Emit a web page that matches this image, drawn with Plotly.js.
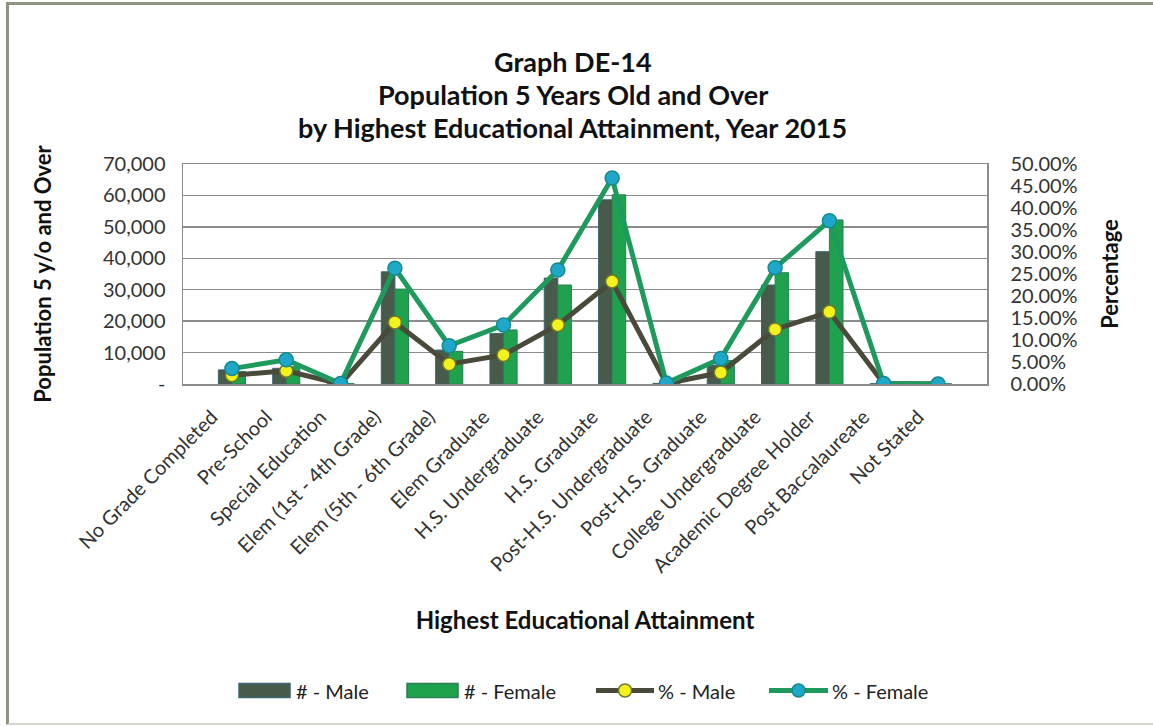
<!DOCTYPE html>
<html>
<head>
<meta charset="utf-8">
<script src="https://cdn.plot.ly/plotly-3.0.1.min.js"></script>
<style>
  html, body { margin: 0; padding: 0; background: #ffffff; }
  #wrap { position: relative; width: 1153px; height: 727px; }
  #chart { width: 1153px; height: 727px; }
  #frame {
    position: absolute; left: 6px; top: 2px; width: 1147px; height: 723px;
    border-left: 3px solid #8e9482; border-top: 3px solid #8e9482;
    border-bottom: 2px solid #d4d6cf;
    pointer-events: none; box-sizing: border-box;
  }
</style>
</head>
<body>
<div id="wrap">
  <div id="chart"></div>
  <div id="frame"></div>
</div>
<script>
// Education levels on the x axis
const categories = [
  "No Grade Completed", "Pre-School", "Special Education",
  "Elem (1st - 4th Grade)", "Elem (5th - 6th Grade)", "Elem Graduate",
  "H.S. Undergraduate", "H.S. Graduate", "Post-H.S. Undergraduate",
  "Post-H.S. Graduate", "College Undergraduate", "Academic Degree Holder",
  "Post Baccalaureate", "Not Stated"
];

// Population counts (left axis)
const maleCount   = [4500, 5000, 100, 35700, 10800, 16100, 33700, 58600, 200, 6000, 31500, 42100, 100, 50];
const femaleCount = [4000, 5500, 100, 30200, 10400, 17200, 31500, 60200, 200, 7500, 35400, 52200, 150, 50];

// Shares in percent (right axis)
const malePct   = [2.0, 3.0, 0.0, 14.0, 4.5, 6.6, 13.4, 23.3, 0.1, 2.6, 12.4, 16.4, 0.1, 0.0];
const femalePct = [3.5, 5.5, 0.1, 26.3, 8.7, 13.4, 25.9, 46.8, 0.2, 5.8, 26.4, 37.1, 0.1, 0.0];

// Axis tick labels
const countTicks = [0, 10000, 20000, 30000, 40000, 50000, 60000, 70000];
const countTickText = ["-", "10,000", "20,000", "30,000", "40,000", "50,000", "60,000", "70,000"];
const pctTicks = [0, 5, 10, 15, 20, 25, 30, 35, 40, 45, 50];
const pctTickText = pctTicks.map(v => v.toFixed(2) + "%");

const titleLines = [
  "Graph DE-14",
  "Population 5 Years Old and Over",
  "by Highest Educational Attainment, Year 2015"
];

const seriesNames = ["# - Male", "# - Female", "% - Male", "% - Female"];

const FONT = "Lato, 'Open Sans', sans-serif";

// Series styling
const STYLE = {
  maleBar:   { fill: "#485a4a", edge: "#3c6472" },
  femaleBar: { fill: "#1ea24e", edge: "#2b7e52" },
  maleLine:  { line: "#4a4a3a", dot: "#f3f21c", dotEdge: "#6f7a2a" },
  femaleLine:{ line: "#1e9b5c", dot: "#1ea7c9", dotEdge: "#168a8c" }
};

const traces = [
  {
    type: "bar", name: seriesNames[0], x: categories, y: maleCount,
    marker: { color: STYLE.maleBar.fill, line: { color: STYLE.maleBar.edge, width: 1 } },
    yaxis: "y"
  },
  {
    type: "bar", name: seriesNames[1], x: categories, y: femaleCount,
    marker: { color: STYLE.femaleBar.fill, line: { color: STYLE.femaleBar.edge, width: 1 } },
    yaxis: "y"
  },
  {
    type: "scatter", mode: "lines+markers", name: seriesNames[2],
    x: categories, y: malePct, yaxis: "y2",
    line: { color: STYLE.maleLine.line, width: 5 },
    marker: { color: STYLE.maleLine.dot, size: 13, line: { color: STYLE.maleLine.dotEdge, width: 1.5 } }
  },
  {
    type: "scatter", mode: "lines+markers", name: seriesNames[3],
    x: categories, y: femalePct, yaxis: "y2",
    line: { color: STYLE.femaleLine.line, width: 5 },
    marker: { color: STYLE.femaleLine.dot, size: 14, line: { color: STYLE.femaleLine.dotEdge, width: 1.5 } }
  }
];

// Plot-area geometry, used to place the legend row in paper units
const PLOT = { left: 183, width: 804, bottom: 384, height: 220 };
const px = v => (v - PLOT.left) / PLOT.width;
const py = v => (PLOT.bottom - v) / PLOT.height;

const annotations = titleLines.map((t, i) => ({
  text: "<b>" + t + "</b>",
  xref: "paper", yref: "paper",
  x: 0.485, y: 1.465 - i * 0.15,
  xanchor: "center", yanchor: "middle",
  showarrow: false,
  font: { family: FONT, size: 27, color: "#111111" }
}));

// Legend row: wide swatches for the bars, line + dot for the percentages
const legendY = 690.5;
const legendItems = [
  { kind: "bar",  x0: 239, x1: 290, textX: 294, style: STYLE.maleBar },
  { kind: "bar",  x0: 407, x1: 458, textX: 462, style: STYLE.femaleBar },
  { kind: "line", x0: 596, x1: 654, textX: 656, style: STYLE.maleLine },
  { kind: "line", x0: 769, x1: 828, textX: 830, style: STYLE.femaleLine }
];
const shapes = [];
legendItems.forEach((it, i) => {
  if (it.kind === "bar") {
    shapes.push({
      type: "rect", xref: "paper", yref: "paper",
      x0: px(it.x0), x1: px(it.x1), y0: py(legendY + 7), y1: py(legendY - 7),
      fillcolor: it.style.fill, line: { color: it.style.edge, width: 1.5 }
    });
  } else {
    shapes.push({
      type: "line", xref: "paper", yref: "paper",
      x0: px(it.x0), x1: px(it.x1), y0: py(legendY), y1: py(legendY),
      line: { color: it.style.line, width: 5 }
    });
    const cx = (it.x0 + it.x1) / 2, r = 6.5;
    shapes.push({
      type: "circle", xref: "paper", yref: "paper",
      x0: px(cx - r), x1: px(cx + r), y0: py(legendY + r), y1: py(legendY - r),
      fillcolor: it.style.dot, line: { color: it.style.dotEdge, width: 1.5 }
    });
  }
  annotations.push({
    text: seriesNames[i],
    xref: "paper", yref: "paper",
    x: px(it.textX), y: py(legendY),
    xanchor: "left", yanchor: "middle",
    showarrow: false,
    font: { family: FONT, size: 20, color: "#222222" }
  });
});

const layout = {
  width: 1153, height: 727,
  margin: { l: 183, r: 166, t: 164, b: 343 },
  paper_bgcolor: "#ffffff",
  plot_bgcolor: "#ffffff",
  font: { family: FONT, color: "#222222" },
  barmode: "group",
  bargap: 0.5,
  bargroupgap: 0,
  showlegend: false,
  xaxis: {
    type: "category",
    tickangle: -45,
    tickfont: { family: FONT, size: 20, color: "#333333" },
    showgrid: false,
    showline: true, linecolor: "#8c8c8c", linewidth: 1.5,
    mirror: true,
    ticks: "",
    ticklabelshift: -20,
    ticklabelstandoff: 12,
    title: {
      text: "<b>Highest Educational Attainment</b>",
      font: { family: FONT, size: 24, color: "#111111" },
      standoff: 36
    },
    automargin: false
  },
  yaxis: {
    range: [0, 70000],
    tickvals: countTicks, ticktext: countTickText,
    tickfont: { family: FONT, size: 20, color: "#333333" },
    showgrid: true, gridcolor: "#8c8c8c", gridwidth: 1.5,
    zeroline: false,
    showline: true, linecolor: "#8c8c8c", linewidth: 1.5,
    ticks: "",
    ticklabelstandoff: 12,
    title: {
      text: "<b>Population 5 y/o and Over</b>",
      font: { family: FONT, size: 22, color: "#111111" },
      standoff: 45
    },
    automargin: false
  },
  yaxis2: {
    overlaying: "y", side: "right",
    range: [0, 50],
    tickvals: pctTicks, ticktext: pctTickText,
    tickfont: { family: FONT, size: 20, color: "#333333" },
    showgrid: false, zeroline: false,
    showline: true, linecolor: "#8c8c8c", linewidth: 1.5,
    ticks: "",
    ticklabelstandoff: 18,
    title: {
      text: "<b>Percentage</b>",
      font: { family: FONT, size: 22, color: "#111111" },
      standoff: 26
    },
    automargin: false
  },
  shapes: shapes,
  annotations: annotations
};

Plotly.newPlot("chart", traces, layout, { displayModeBar: false, staticPlot: true });
</script>
</body>
</html>
